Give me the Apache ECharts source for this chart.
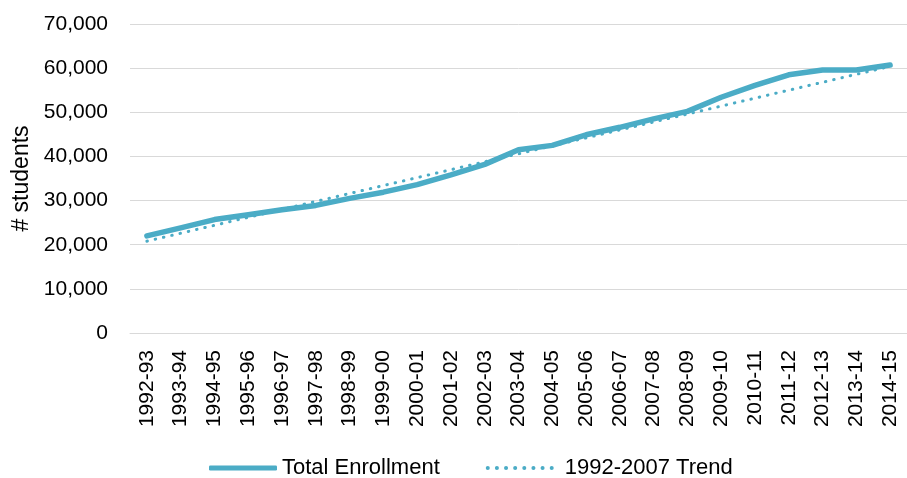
<!DOCTYPE html>
<html>
<head>
<meta charset="utf-8">
<title>Enrollment</title>
<script src="https://cdn.jsdelivr.net/npm/echarts@6/dist/echarts.min.js"></script>
<style>
  html, body { margin: 0; padding: 0; background: #fff; }
  #chart { width: 907px; height: 478px; }
</style>
</head>
<body>
<div id="chart"></div>
<script>
var years = ['1992-93', '1993-94', '1994-95', '1995-96', '1996-97', '1997-98', '1998-99',
  '1999-00', '2000-01', '2001-02', '2002-03', '2003-04', '2004-05', '2005-06', '2006-07',
  '2007-08', '2008-09', '2009-10', '2010-11', '2011-12', '2012-13', '2013-14', '2014-15'];

var totalEnrollment = [22000, 23800, 25700, 26800, 27900, 28900, 30500, 31900, 33600, 35800,
  38200, 41500, 42500, 44900, 46600, 48500, 50200, 53400, 56100, 58500, 59600, 59600, 60700];

var trend = [20800, 22600, 24400, 26200, 28000, 29800, 31600, 33400, 35200, 37000, 38800,
  40600, 42400, 44200, 46000, 47800, 49600, 51400, 53200, 55000, 56800, 58600, 60400];

var font = 'Liberation Sans';
var lineColor = '#4BACC6';

// dotted legend icon: a row of small circles
var dots = '';
for (var i = 0; i < 8; i++) {
  var cx = i * 9;
  dots += 'M' + cx + ',2 a2,2 0 1,0 4,0 a2,2 0 1,0 -4,0 ';
}

var chart = echarts.init(document.getElementById('chart'));
chart.setOption({
  animation: false,
  grid: { left: 130, right: -8, top: 24, bottom: 145 },
  legend: {
    top: 452,
    left: 204,
    itemWidth: 68,
    itemHeight: 5,
    itemGap: 46,
    textStyle: { fontFamily: font, fontSize: 22, color: '#000' },
    data: [
      { name: 'Total Enrollment', icon: 'roundRect' },
      { name: '1992-2007 Trend', icon: 'path://' + dots, textStyle: { padding: [0, 0, 0, 6] } }
    ]
  },
  xAxis: {
    type: 'category',
    data: years,
    boundaryGap: true,
    axisLine: { lineStyle: { color: '#d9d9d9', width: 1 } },
    axisTick: { show: false },
    axisLabel: { rotate: 90, margin: 17, interval: 0, fontFamily: font, fontSize: 21, color: '#000' }
  },
  yAxis: {
    type: 'value',
    min: 0,
    max: 70000,
    interval: 10000,
    name: '# students',
    nameLocation: 'middle',
    nameGap: 96,
    nameTextStyle: { fontFamily: font, fontSize: 23, color: '#000' },
    axisLine: { show: false },
    axisTick: { show: false },
    splitLine: { lineStyle: { color: '#d9d9d9', width: 1 } },
    axisLabel: {
      margin: 22,
      fontFamily: font,
      fontSize: 21,
      color: '#000',
      formatter: function (v) { return v.toLocaleString('en-US'); }
    }
  },
  series: [{
    name: 'Total Enrollment',
    type: 'line',
    data: totalEnrollment,
    symbol: 'none',
    lineStyle: { color: lineColor, width: 5.5, cap: 'round', join: 'round' },
    itemStyle: { color: lineColor },
    z: 3
  }, {
    name: '1992-2007 Trend',
    type: 'line',
    data: trend,
    symbol: 'none',
    lineStyle: { color: lineColor, width: 3, type: [0.5, 8], cap: 'round' },
    itemStyle: { color: lineColor },
    z: 2
  }]
});
</script>
</body>
</html>
